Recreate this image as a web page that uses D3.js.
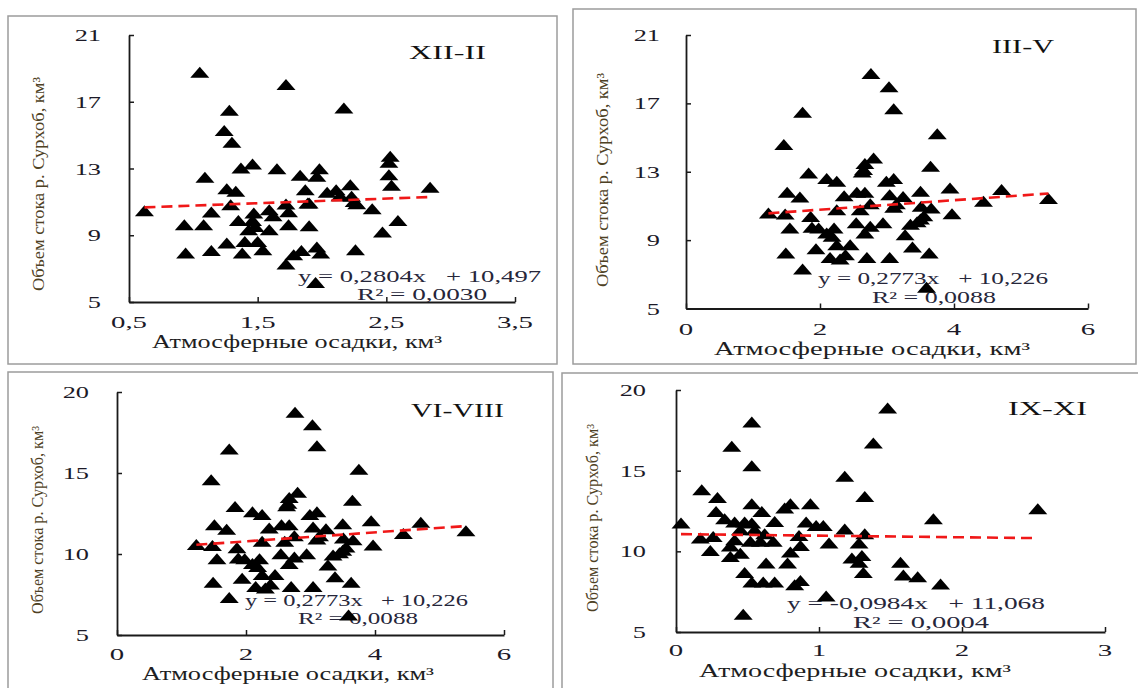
<!DOCTYPE html>
<html><head><meta charset="utf-8">
<script src="https://cdn.jsdelivr.net/npm/d3@7"></script>
<style>body{margin:0;background:#fff}svg{display:block}</style>
</head><body><svg id="c" width="1138" height="688"></svg>
<script>
// ---- data ----
const xiiX=[1.05,1.72,2.17,1.28,1.24,1.30,2.53,2.52,2.52,2.54,1.46,1.37,1.65,1.98,1.96,1.83,1.09,2.22,1.26,1.33,1.87,2.04,2.11,2.14,2.23,2.84,1.29,1.72,1.89,1.90,2.25,2.27,0.62,1.14,1.59,1.62,1.74,1.47,2.39,1.35,1.46,1.48,1.43,1.59,0.93,1.08,1.74,1.90,2.59,2.47,1.26,1.40,1.50,0.94,1.14,1.38,1.54,1.84,1.96,1.99,1.78,2.26,1.72,1.95];
const xiiY=[18.74,18.0,16.6,16.46,15.24,14.54,13.7,13.34,12.6,11.96,13.24,13.0,12.96,12.96,12.5,12.56,12.44,12.0,11.76,11.6,11.7,11.54,11.7,11.34,11.3,11.84,10.8,10.84,10.9,10.9,11.0,10.86,10.44,10.36,10.5,10.14,10.38,10.3,10.56,9.86,9.86,9.5,9.3,9.3,9.6,9.6,9.6,9.54,9.86,9.16,8.5,8.6,8.6,7.9,8.06,7.9,8.1,8.06,8.26,7.9,7.8,8.1,7.24,6.14];

const springX=[2.76,3.03,3.10,1.74,3.75,1.46,2.80,2.67,2.65,2.63,3.65,1.83,2.10,2.25,2.99,3.10,3.94,4.71,1.51,1.70,2.36,2.55,2.67,3.04,3.24,3.50,4.44,5.41,3.14,3.10,2.75,2.60,2.25,3.51,3.66,1.23,1.48,1.86,3.97,3.55,3.50,3.45,3.35,1.55,1.88,1.98,2.21,2.54,2.75,2.94,2.67,2.10,2.18,3.27,2.25,2.45,1.94,3.38,1.49,2.15,2.30,2.38,2.70,3.04,3.63,1.74,3.59];
const springY=[18.72,17.94,16.65,16.45,15.2,14.56,13.78,13.45,13.1,12.95,13.29,12.9,12.57,12.41,12.41,12.57,12.02,11.93,11.77,11.5,11.57,11.77,11.77,11.63,11.53,11.83,11.24,11.4,11.1,10.9,11.1,10.75,10.75,10.95,10.85,10.56,10.5,10.36,10.52,10.4,10.2,10.05,9.9,9.68,9.72,9.68,9.68,9.98,9.78,9.98,9.39,9.39,9.2,9.29,8.7,8.7,8.47,8.57,8.22,7.96,7.87,8.12,7.96,7.96,8.22,7.28,6.21];

const summerX=springX.slice();
const summerY=springY.slice();

const autumnX=[1.48,0.53,0.39,1.38,0.53,1.18,0.18,0.29,1.32,0.53,0.80,0.94,2.53,0.28,0.60,0.76,1.80,0.035,0.34,0.41,0.48,0.53,0.69,0.91,0.98,1.03,1.18,0.45,0.55,0.26,0.17,0.62,0.86,1.32,0.41,0.52,0.59,0.68,0.87,1.07,1.28,0.24,0.38,0.80,0.38,0.45,0.63,0.78,1.23,1.30,1.28,1.57,1.31,0.48,0.53,0.61,0.69,1.59,1.69,0.87,0.83,1.85,1.05,0.47];
const autumnY=[18.86,17.99,16.48,16.69,15.28,14.62,13.79,13.31,13.37,12.92,12.92,12.92,12.61,12.44,12.44,12.65,11.99,11.72,11.99,11.78,11.78,11.72,11.82,11.78,11.57,11.57,11.35,11.3,11.3,10.89,10.79,11.06,10.95,11.06,10.68,10.6,10.6,10.6,10.33,10.48,10.48,10.02,10.3,9.92,9.65,9.85,9.24,9.24,9.55,9.71,9.3,9.3,8.65,8.65,8.07,8.07,8.07,8.5,8.4,8.16,7.89,7.95,7.2,6.07];

const ticks21=[5,9,13,17,21];
const ticks20=[5,10,15,20];
const ticksX1=[0.5,1.5,2.5,3.5], ticksX1Lab=["0,5","1,5","2,5","3,5"];
const ticksX6=[0,2,4,6], ticksX6Lab=["0","2","4","6"];
const ticksX3=[0,1,2,3], ticksX3Lab=["0","1","2","3"];
const titles=["XII-II","III-V","VI-VIII","IX-XI"];
const eqs=["y = 0,2804x   + 10,497","y = 0,2773x   + 10,226","y = 0,2773x   + 10,226","y = -0,0984x   + 11,068"];
const r2s=["R² = 0,0030","R² = 0,0088","R² = 0,0088","R² = 0,0004"];
const slopes=[0.2804,0.2773,0.2773,-0.0984];
const icpts=[10.497,10.226,10.226,11.068];
const yLabelText="Объем стока р. Сурхоб, км³";
const xLabelText="Атмосферные осадки, км³";

// ---- layout ----
const panels=[
 {x:xiiX,y:xiiY,frame:[8,16,549,348],xr:[129,515],yr:[302,35],xd:[0.5,3.5],yd:[5,21],xt:ticksX1,xl:ticksX1Lab,yt:ticks21,
  ytR:101,xtB:328,yl:[38,184,214],xlab:[152,290,348],tt:[409,59,77],e1:[298,282,243],e2:[357,300,130]},
 {x:springX,y:springY,frame:[573,9,563,355],xr:[686,1088],yr:[308.5,35],xd:[0,6],yd:[5,21],xt:ticksX6,xl:ticksX6Lab,yt:ticks21,
  ytR:660,xtB:335,yl:[602,180,214],xlab:[714,316,355],tt:[992,53,62],e1:[818,284,230],e2:[872,303,124]},
 {x:summerX,y:summerY,frame:[8,372,545,320],xr:[117,504],yr:[635,392],xd:[0,6],yd:[5,20],xt:ticksX6,xl:ticksX6Lab,yt:ticks20,
  ytR:89,xtB:660,yl:[37,520,188],xlab:[142,292,680],tt:[411,417,93],e1:[245,606,223],e2:[298,624,120]},
 {x:autumnX,y:autumnY,frame:[562,373,580,320],xr:[676,1105],yr:[632,390],xd:[0,3],yd:[5,20],xt:ticksX3,xl:ticksX3Lab,yt:ticks20,
  ytR:646,xtB:656,yl:[592,518,188],xlab:[699,312,677],tt:[1008,415,79],e1:[787,609,258],e2:[853,628,136]}
];

const svg=d3.select("#c");
const FONT="'Liberation Serif','Times New Roman',serif";

panels.forEach((p,i)=>{
  const g=svg.append("g");
  g.append("rect").attr("x",p.frame[0]).attr("y",p.frame[1]).attr("width",p.frame[2]).attr("height",p.frame[3])
    .attr("fill","none").attr("stroke","#9c9c9c").attr("stroke-width",1.5);
  const xs=d3.scaleLinear().domain(p.xd).range(p.xr);
  const ys=d3.scaleLinear().domain(p.yd).range(p.yr);

  const ax=g.append("g").attr("transform",`translate(0,${p.yr[0]})`)
    .call(d3.axisBottom(xs).tickValues(p.xt).tickSizeInner(-5).tickSizeOuter(0).tickFormat(""));
  const ay=g.append("g").attr("transform",`translate(${p.xr[0]},0)`)
    .call(d3.axisLeft(ys).tickValues(p.yt).tickSizeInner(-5).tickSizeOuter(0).tickFormat(""));
  [ax,ay].forEach(a=>{a.select(".domain").attr("stroke","#1a1a1a").attr("stroke-width",1.8);
    a.selectAll(".tick line").attr("stroke","#1a1a1a").attr("stroke-width",1.5);});

  // tick labels
  p.yt.forEach(v=>{
    g.append("text").attr("transform",`translate(${p.ytR},${ys(v)+6}) scale(1.55,1)`)
      .attr("text-anchor","end").attr("font-family",FONT).attr("font-size",17).attr("fill","#1c1a28").text(v);
  });
  p.xt.forEach((v,k)=>{
    g.append("text").attr("transform",`translate(${xs(v)},${p.xtB}) scale(1.75,1)`)
      .attr("text-anchor","middle").attr("font-family",FONT).attr("font-size",16.5).attr("fill","#1c1a28").text(p.xl[k]);
  });

  // axis titles
  g.append("text").attr("transform",`translate(${p.yl[0]+6},${p.yl[1]}) rotate(-90)`)
    .attr("text-anchor","middle").attr("font-family",FONT).attr("font-size",16)
    .attr("textLength",p.yl[2]).attr("lengthAdjust","spacingAndGlyphs").attr("fill","#4e4124").text(yLabelText);
  g.append("text").attr("x",p.xlab[0]).attr("y",p.xlab[2]).attr("font-family",FONT).attr("font-size",18)
    .attr("textLength",p.xlab[1]).attr("lengthAdjust","spacingAndGlyphs").attr("fill","#1e1e22").text(xLabelText);

  // panel title
  g.append("text").attr("x",p.tt[0]).attr("y",p.tt[1]).attr("font-family",FONT).attr("font-size",19)
    .attr("textLength",p.tt[2]).attr("lengthAdjust","spacingAndGlyphs").attr("fill","#111").text(titles[i]);

  // equation
  g.append("text").attr("x",p.e1[0]).attr("y",p.e1[1]).attr("font-family",FONT).attr("font-size",16)
    .attr("textLength",p.e1[2]).attr("lengthAdjust","spacingAndGlyphs").attr("fill","#26263a")
    .style("white-space","pre").text(eqs[i]);
  g.append("text").attr("x",p.e2[0]).attr("y",p.e2[1]).attr("font-family",FONT).attr("font-size",16)
    .attr("textLength",p.e2[2]).attr("lengthAdjust","spacingAndGlyphs").attr("fill","#26263a")
    .style("white-space","pre").text(r2s[i]);

  // markers
  const pts=p.x.map((xv,k)=>[xv,p.y[k]]);
  g.append("g").selectAll("path").data(pts).join("path")
    .attr("d","M0,-6 L9.5,5 L-9.5,5 Z")
    .attr("transform",d=>`translate(${xs(d[0])},${ys(d[1])})`)
    .attr("fill","#000");

  // trend line
  const ext=d3.extent(p.x);
  const line=d3.line().x(d=>xs(d)).y(d=>ys(slopes[i]*d+icpts[i]));
  g.append("path").attr("d",line(ext)).attr("fill","none").attr("stroke","#f01818")
    .attr("stroke-width",2.6).attr("stroke-dasharray","11,6");
});
</script></body></html>
